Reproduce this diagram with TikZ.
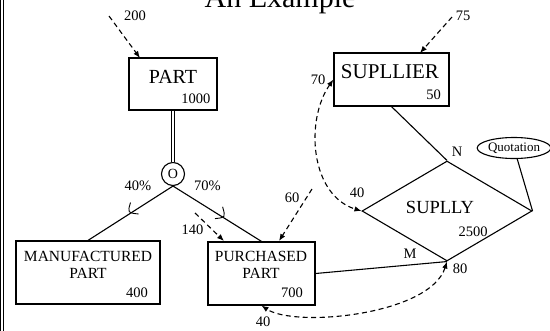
\documentclass[tikz,border=0pt]{standalone}
\usepackage{fontspec}
\setmainfont{Liberation Serif}
\usetikzlibrary{shapes.geometric,arrows.meta}

\newcommand{\fs}[1]{\fontsize{#1}{#1}\selectfont}

\tikzset{
  ebox/.style={draw, line width=1.2pt, inner sep=0pt},
  conn/.style={line width=1.1pt},
  flow/.style={line width=1.1pt, dash pattern=on 5pt off 3.5pt, -{Latex[length=7pt,width=5.5pt]}},
  flowboth/.style={flow, {Latex[length=7pt,width=5.5pt]}-{Latex[length=7pt,width=5.5pt]}},
  big/.style={font=\fs{20}},
  mid/.style={font=\fs{15.5}},
  num/.style={font=\fs{14.5}, inner sep=0pt},
  submark/.style={line width=0.9pt},
}

\begin{document}
\begin{tikzpicture}[x=1pt,y=-1pt]
\useasboundingbox (0,0) rectangle (550,330);
\clip (0,0) rectangle (550,330);

% frame edge
\draw[line width=0.9pt, double, double distance=2.2pt] (2.2,-2) -- (2.2,332);

% title
\node[font=\fs{30}, anchor=base, inner sep=0pt] (title) at (280,7) {An Example};

% entities
\node[ebox, minimum width=88pt, minimum height=52pt] (part) at (173,84) {};
\node[big, inner sep=0pt] (partT) at (173,77) {PART};
\node[num, anchor=east] (partN) at (210.5,99) {1000};

\node[ebox, minimum width=115pt, minimum height=53pt] (supp) at (391.5,79.5) {};
\node[font=\fs{21}, inner sep=0pt] (suppT) at (390,72) {SUPLLIER};
\node[num, anchor=east] (suppN) at (441,95) {50};

\node[ebox, minimum width=144pt, minimum height=63pt] (manuf) at (88,272.5) {};
\node[mid, inner sep=0pt] (manufT1) at (88,256) {MANUFACTURED};
\node[mid, inner sep=0pt] (manufT2) at (88,273) {PART};
\node[num, anchor=east] (manufN) at (148,293) {400};

\node[ebox, minimum width=107pt, minimum height=63pt] (purch) at (261.5,273.5) {};
\node[mid, inner sep=0pt] (purchT1) at (261,256) {PURCHASED};
\node[mid, inner sep=0pt] (purchT2) at (261,273) {PART};
\node[num, anchor=east] (purchN) at (303,293) {700};

% relationship
\node[diamond, draw, line width=1.1pt, minimum width=170pt, minimum height=100pt, inner sep=0pt] (supl) at (447,211) {};
\node[font=\fs{18.5}, inner sep=0pt] (suplT) at (440,207) {SUPLLY};
\node[num] (suplN) at (473,232) {2500};

% attribute
\node[ellipse, draw, line width=1.1pt, minimum width=70pt, minimum height=21pt, inner sep=0pt, font=\fs{13}] (quot) at (514,148) {Quotation};

% specialization circle
\node[circle, draw, line width=1.1pt, minimum size=23pt, inner sep=0pt, font=\fs{14}] (spec) at (173,174) {O};

% connectors
\draw[line width=0.9pt, double, double distance=2.5pt] (part.south) -- (spec.north);
\draw[conn] (spec.south) -- (manuf.north);
\draw[conn] (spec.south) -- (purch.north);
\draw[conn] (supp.south) -- (supl.north);
\draw[conn] (purch.east) -- (supl.south);
\draw[conn] (supl.east) -- (quot);

% subset marks
\draw[submark] (130.5,202.5) .. controls (127.5,212.8) .. (138.6,214.0);
\draw[submark] (222.6,206.8) .. controls (225.6,217.5) .. (215.0,218.6);

% labels on the hierarchy and relationship
\node[num] (pl) at (138,185.5) {40\%};
\node[num] (pr) at (207.5,186) {70\%};
\node[num] (lN) at (457,152) {N};
\node[num] (lM) at (410,254) {M};

% access flows
\coordinate (s200) at (109,16);
\coordinate (t200) at (140,58);
\draw[flow] (s200) -- (t200);
\node[num] (l200) at (135,16) {200};

\coordinate (s75) at (452,17);
\coordinate (t75) at (420,53);
\draw[flow] (s75) -- (t75);
\node[num] (l75) at (463,16) {75};

\coordinate (s140) at (195,213);
\coordinate (t140) at (224,241);
\draw[flow] (s140) -- (t140);
\node[num] (l140) at (192.5,230) {140};

\coordinate (s60) at (312,189);
\coordinate (t60) at (279,241);
\draw[flow] (s60) -- (t60);
\node[num] (l60) at (292,198) {60};

\draw[flowboth] (supp.west) .. controls (305,120) and (310,195) .. (supl.west);
\node[num] (l70) at (318,80) {70};
\node[num] (l40a) at (357,193) {40};

\draw[flowboth] (supl.south) .. controls (430,315) and (295,328) .. (purch.south);
\node[num] (l80) at (460,269) {80};
\node[num] (l40b) at (263,322) {40};
\end{tikzpicture}
\end{document}
